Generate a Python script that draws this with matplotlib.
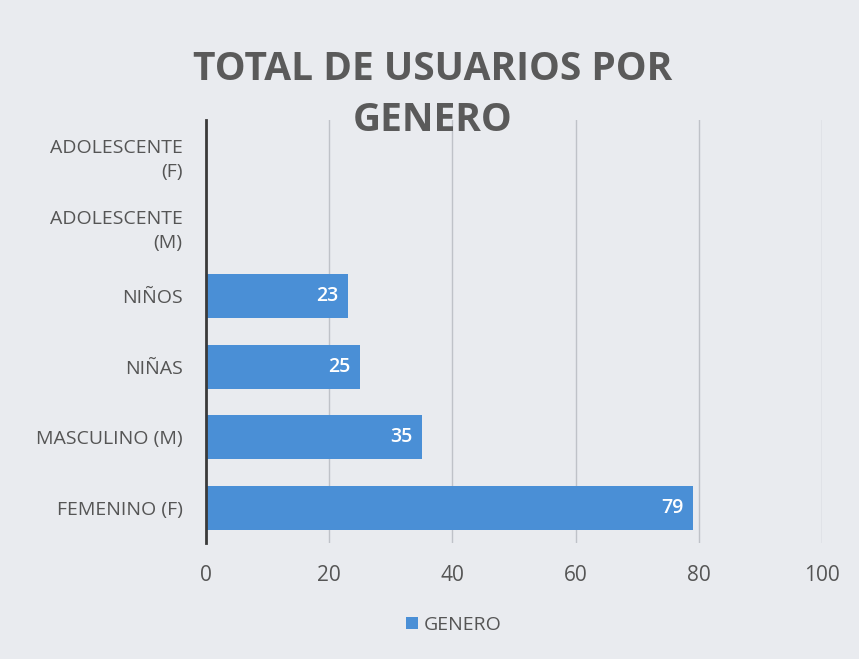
import matplotlib.pyplot as plt
import numpy as np

categorias = ["FEMENINO (F)", "MASCULINO (M)", "NIÑAS", "NIÑOS",
              "ADOLESCENTE\n(M)", "ADOLESCENTE\n(F)"]
valores = [79, 35, 25, 23, 0, 0]
xticks = [0, 20, 40, 60, 80, 100]

plt.rcParams['font.family'] = ['Open Sans', 'DejaVu Sans']

fig = plt.figure(figsize=(8.59, 6.59), dpi=100, facecolor='#e9ebef')
ax = fig.add_axes([0.2398, 0.176, 0.717, 0.642])
ax.set_facecolor('#e9ebef')

y = np.arange(len(categorias))
barras = ax.barh(y, valores, height=0.62, color='#4a8fd6', label='GENERO', zorder=3)

for b, v in zip(barras, valores):
    if v > 0:
        ax.text(b.get_width() - 1.5, b.get_y() + b.get_height() / 2, str(v),
                ha='right', va='center', color='white', fontsize=14,
                fontweight='semibold', zorder=4)

ax.set_xlim(0, 100)
ax.set_ylim(-0.5, len(categorias) - 0.5)
ax.set_yticks(y)
ax.set_yticklabels(categorias, fontsize=14, color='#555555', linespacing=1.45)
ax.set_xticks(xticks)
ax.set_xticklabels([str(t) for t in xticks], fontsize=15, color='#555555')
ax.tick_params(axis='y', length=0, pad=17)
ax.tick_params(axis='x', length=0, pad=16)
ax.grid(axis='x', color='#bfc2c8', linewidth=1, zorder=0)
for s in ['top', 'right', 'bottom']:
    ax.spines[s].set_visible(False)
ax.spines['left'].set_color('#3a3a3a')
ax.spines['left'].set_linewidth(2)
ax.spines['left'].set_zorder(5)

fig.text(0.504, 0.895, "TOTAL DE USUARIOS POR", ha='center', va='center',
         fontsize=28, fontweight='bold', color='#5a5a5a')
fig.text(0.504, 0.817, "GENERO", ha='center', va='center',
         fontsize=28, fontweight='bold', color='#5a5a5a')

fig.legend(loc='center', bbox_to_anchor=(0.528, 0.052), frameon=False,
           fontsize=14, handlelength=0.6, handleheight=0.6, handletextpad=0.3,
           labelcolor='#555555')

fig.savefig('out.png', dpi=100, facecolor=fig.get_facecolor())
